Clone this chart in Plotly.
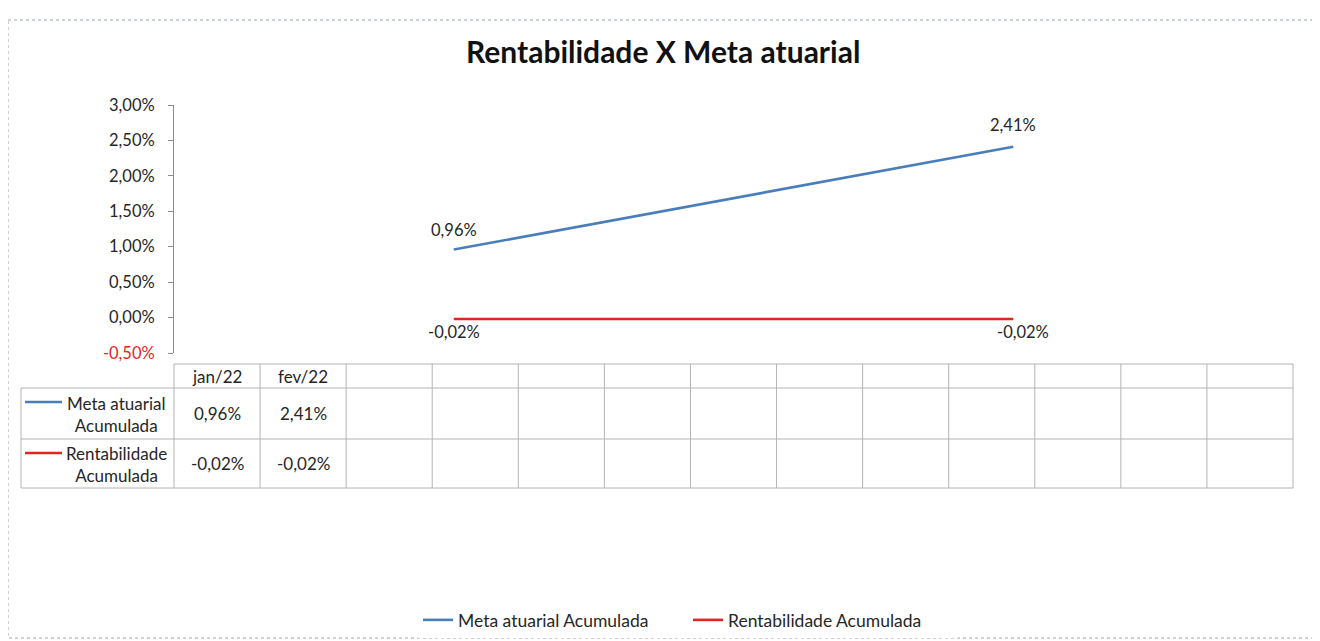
import plotly.graph_objects as go

# chart data
categories = ["jan/22", "fev/22"]
meta_atuarial = [0.96, 2.41]
rentabilidade = [-0.02, -0.02]
table_columns = 13
y_ticks = [-0.5, 0.0, 0.5, 1.0, 1.5, 2.0, 2.5, 3.0]

# page body has an 8px margin, so the figure is drawn 8px smaller
OFF = 8
W, H = 1320 - OFF, 641 - OFF
PL, PR, PT, PB = 174, 1293, 105, 353   # plot area in window pixels
FONT = "Lato, Open Sans, sans-serif"
BLUE = "#4a7ebb"
RED = "#e3251f"
GRID = "#b4b4b4"
TXT = "#262626"


def px(x):
    return (x - PL) / (PR - PL)


def py(y):
    return (PB - y) / (PB - PT)


def pct(v):
    return f"{v:.2f}%".replace(".", ",")


fig = go.Figure()
fig.add_trace(go.Scatter(
    x=categories, y=meta_atuarial, name="Meta atuarial Acumulada",
    mode="lines", line=dict(color=BLUE, width=2.6)))
fig.add_trace(go.Scatter(
    x=categories, y=rentabilidade, name="Rentabilidade Acumulada",
    mode="lines", line=dict(color=RED, width=2.6)))

ticktext = []
for v in y_ticks:
    if v < 0:
        ticktext.append(f'<span style="color:{RED}">{pct(v)}</span>')
    else:
        ticktext.append(pct(v))

shapes = []
annotations = []

# data labels
for i, cat in enumerate(categories):
    annotations.append(dict(x=cat, y=meta_atuarial[i], xref="x", yref="y", text=pct(meta_atuarial[i]),
                            yshift=20 + 2 * i, showarrow=False, xanchor="center", yanchor="middle",
                            font=dict(size=16.5, color=TXT, family=FONT)))
    annotations.append(dict(x=cat, y=rentabilidade[i], xref="x", yref="y", text=pct(rentabilidade[i]),
                            yshift=-13, xshift=10 * i, showarrow=False, xanchor="center", yanchor="middle",
                            font=dict(size=16.5, color=TXT, family=FONT)))

# data table under the plot
row_y = [364, 388, 439, 488]
col_x = [PL + i * (PR - PL) / table_columns for i in range(table_columns + 1)]
line = dict(color=GRID, width=1)
shapes.append(dict(type="line", xref="paper", yref="paper", x0=0, x1=1,
                   y0=py(row_y[0]), y1=py(row_y[0]), line=line))
for y in row_y[1:]:
    shapes.append(dict(type="line", xref="paper", yref="paper", x0=px(21), x1=1,
                       y0=py(y), y1=py(y), line=line))
shapes.append(dict(type="line", xref="paper", yref="paper", x0=px(21), x1=px(21),
                   y0=py(row_y[1]), y1=py(row_y[3]), line=line))
for x in col_x:
    shapes.append(dict(type="line", xref="paper", yref="paper", x0=px(x), x1=px(x),
                       y0=py(row_y[0]), y1=py(row_y[3]), line=line))

table_notes = []
for i, cat in enumerate(categories):
    cx = (col_x[i] + col_x[i + 1]) / 2
    table_notes.append(dict(x=px(cx), y=py((row_y[0] + row_y[1]) / 2), text=cat))
    table_notes.append(dict(x=px(cx), y=py((row_y[1] + row_y[2]) / 2), text=pct(meta_atuarial[i])))
    table_notes.append(dict(x=px(cx), y=py((row_y[2] + row_y[3]) / 2), text=pct(rentabilidade[i])))

row_labels = [("Meta atuarial<br>Acumulada", BLUE), ("Rentabilidade<br>Acumulada", RED)]
for k, (label, color) in enumerate(row_labels):
    top, bot = row_y[k + 1], row_y[k + 2]
    ky = top + 14
    shapes.append(dict(type="line", xref="paper", yref="paper", x0=px(25), x1=px(62),
                       y0=py(ky), y1=py(ky), line=dict(color=color, width=2.6)))
    table_notes.append(dict(x=px(116), y=py((top + bot) / 2 + 1), text=label, align="center"))

for a in table_notes:
    a.update(xref="paper", yref="paper", showarrow=False, xanchor="center", yanchor="middle",
             font=dict(size=17, color=TXT, family=FONT))
annotations += table_notes

# title
annotations.append(dict(xref="paper", yref="paper", x=px(663), y=py(51), showarrow=False,
                        xanchor="center", yanchor="middle",
                        text="<b>Rentabilidade X Meta atuarial</b>",
                        font=dict(size=30, color="#111111", family=FONT)))

# chart frame
shapes.append(dict(type="rect", xref="paper", yref="paper", x0=px(8), x1=px(1330),
                   y0=py(20), y1=py(638), line=dict(color="#9aa3b5", width=1, dash="dot")))

fig.update_layout(
    width=W, height=H,
    margin=dict(l=PL - OFF, r=W - (PR - OFF), t=PT - OFF, b=H - (PB - OFF)),
    paper_bgcolor="white", plot_bgcolor="white",
    font=dict(family=FONT, size=17, color=TXT),
    shapes=shapes, annotations=annotations,
    showlegend=True,
    legend=dict(orientation="h", xref="container", yref="container",
                x=(418 - OFF) / W, xanchor="left", y=(H - (620 - OFF)) / H, yanchor="middle",
                font=dict(size=17.5, color=TXT), entrywidth=225, entrywidthmode="pixels"),
    xaxis=dict(range=[-0.5, 1.5], showticklabels=False, showgrid=False,
               zeroline=False, showline=False, ticks=""),
    yaxis=dict(range=[-0.5, 3.0], tickvals=y_ticks, ticktext=ticktext,
               showgrid=False, zeroline=False, showline=True, linecolor="#8c8c8c",
               linewidth=1, ticks="outside", ticklen=5, tickcolor="#8c8c8c",
               ticklabelstandoff=10, tickfont=dict(size=16.5, color=TXT)),
)

fig.write_html("out.html")
